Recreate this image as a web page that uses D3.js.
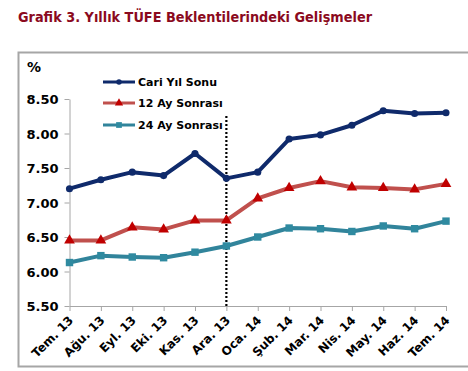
<!DOCTYPE html>
<html><head><meta charset="utf-8">
<script src="https://cdn.jsdelivr.net/npm/d3@7"></script>
<style>body{margin:0;background:#fff;}svg{display:block;}</style>
</head><body>
<script>
const months = ["Tem. 13","Ağu. 13","Eyl. 13","Eki. 13","Kas. 13","Ara. 13","Oca. 14","Şub. 14","Mar. 14","Nis. 14","May. 14","Haz. 14","Tem. 14"];
const cariYil = [7.20,7.33,7.44,7.39,7.71,7.35,7.44,7.92,7.98,8.12,8.33,8.29,8.30];
const ay12 = [6.45,6.45,6.64,6.61,6.74,6.74,7.06,7.21,7.31,7.22,7.21,7.19,7.27];
const ay24 = [6.13,6.23,6.21,6.20,6.28,6.37,6.50,6.63,6.62,6.58,6.66,6.62,6.73];
const yTicks = [5.5,6.0,6.5,7.0,7.5,8.0,8.5];
const seriesNames = ["Cari Yıl Sonu","12 Ay Sonrası","24 Ay Sonrası"];
const dividerAt = "Ara. 13";

const W=468,H=371;
const svg=d3.select("body").append("svg").attr("width",W).attr("height",H);
const font="Verdana, 'DejaVu Sans', sans-serif";

svg.append("text").attr("x",18).attr("y",22).attr("fill","#8b0a1e")
  .attr("font-family",font).attr("font-weight","bold").attr("font-size",14)
  .attr("textLength",354).attr("lengthAdjust","spacingAndGlyphs")
  .text("Grafik 3. Yıllık TÜFE Beklentilerindeki Gelişmeler");

// frame
svg.append("path").attr("d","M469,52.5 H18.5 V366.5 H469").attr("fill","none")
  .attr("stroke","#a6a6a6").attr("stroke-width",2);

const x=d3.scalePoint().domain(months).range([69.5,446]);
const y=d3.scaleLinear().domain([5.5,8.5]).range([306,99]);

// y axis
const ya=svg.append("g").attr("transform","translate(69.5,0)")
  .call(d3.axisLeft(y).tickValues(yTicks).tickFormat(d3.format(".2f")).tickSize(5).tickSizeOuter(0));
ya.select(".domain").attr("stroke","#a6a6a6");
ya.selectAll(".tick line").attr("stroke","#a6a6a6");
ya.selectAll("text").attr("font-family",font).attr("font-weight","bold").attr("font-size",13)
  .attr("fill","#000").attr("x",-11).attr("dy","0.36em");

// x axis
const xa=svg.append("g").attr("transform","translate(0,306)")
  .call(d3.axisBottom(x).tickSize(5).tickSizeOuter(0));
xa.select(".domain").attr("stroke","#a6a6a6");
xa.selectAll(".tick line").attr("stroke","#a6a6a6");
xa.selectAll("text").attr("font-family",font).attr("font-weight","bold").attr("font-size",12)
  .attr("fill","#000").attr("text-anchor","end").attr("dy",0).attr("y",0)
  .attr("transform","translate(4,15) rotate(-45)");

svg.append("text").attr("x",27).attr("y",72).attr("font-family",font).attr("font-weight","bold")
  .attr("font-size",14).text("%");

// divider
svg.append("line").attr("x1",x(dividerAt)).attr("x2",x(dividerAt)).attr("y1",116).attr("y2",306)
  .attr("stroke","#000").attr("stroke-width",2.2).attr("stroke-dasharray","2,2");

const series=[
  {name:seriesNames[0],vals:cariYil,color:"#0f2a6b",mk:"#0f2a6b",sym:d3.symbolCircle,size:40},
  {name:seriesNames[1],vals:ay12,color:"#c0504d",mk:"#c00000",sym:d3.symbolTriangle,size:50},
  {name:seriesNames[2],vals:ay24,color:"#31849b",mk:"#2f8aa0",sym:d3.symbolSquare,size:55}
];
const line=d3.line().x((d,i)=>x(months[i])).y(d=>y(d));
series.slice().reverse().forEach(s=>{
  svg.append("path").datum(s.vals).attr("d",line).attr("fill","none")
    .attr("stroke",s.color).attr("stroke-width",4).attr("stroke-linejoin","round");
  svg.selectAll(null).data(s.vals).enter().append("path")
    .attr("d",d3.symbol().type(s.sym).size(s.size))
    .attr("transform",(d,i)=>`translate(${x(months[i])},${y(d)})`).attr("fill",s.mk);
});

// legend
const ly=[82,103,125];
series.forEach((s,i)=>{
  svg.append("line").attr("x1",103).attr("x2",135).attr("y1",ly[i]).attr("y2",ly[i])
    .attr("stroke",s.color).attr("stroke-width",3);
  svg.append("path").attr("d",d3.symbol().type(s.sym).size(s.size*0.6)())
    .attr("transform",`translate(119,${ly[i]})`).attr("fill",s.mk);
  svg.append("text").attr("x",138).attr("y",ly[i]).attr("dy","0.36em")
    .attr("font-family",font).attr("font-weight","bold").attr("font-size",11).text(s.name);
});
</script>
</body></html>
